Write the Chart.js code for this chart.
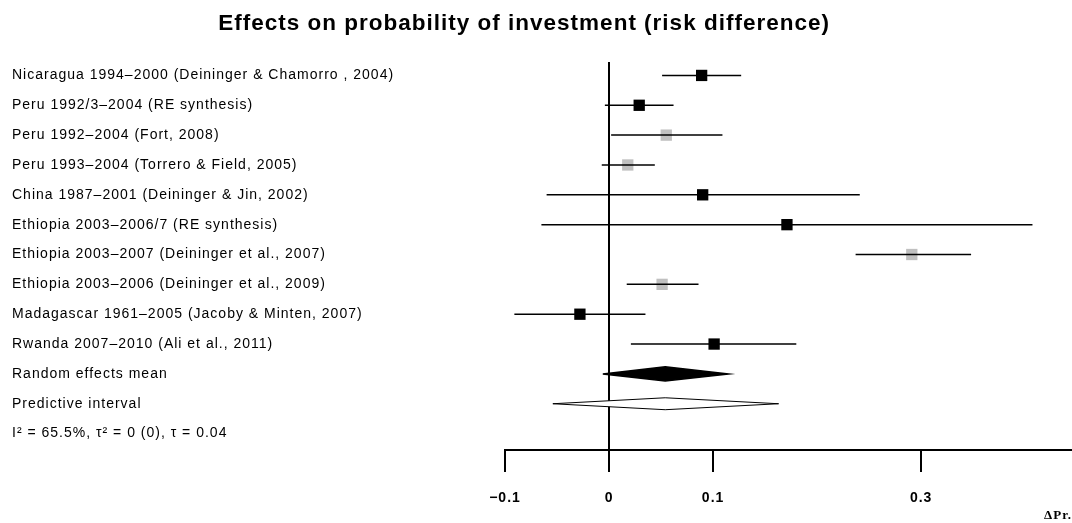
<!DOCTYPE html>
<html>
<head>
<meta charset="utf-8">
<script src="https://cdn.jsdelivr.net/npm/chart.js@4"></script>
<style>
  html, body { margin: 0; padding: 0; background: #fff; }
  #wrap { width: 1072px; height: 523px; }
</style>
</head>
<body>
<div id="wrap"><canvas id="forest"></canvas></div>
<script>
// Studies (rows top to bottom)
const studies = [
    "Nicaragua 1994\u20132000 (Deininger & Chamorro , 2004)",
    "Peru 1992/3\u20132004 (RE synthesis)",
    "Peru 1992\u20132004 (Fort, 2008)",
    "Peru 1993\u20132004 (Torrero & Field, 2005)",
    "China 1987\u20132001 (Deininger & Jin, 2002)",
    "Ethiopia 2003\u20132006/7 (RE synthesis)",
    "Ethiopia 2003\u20132007 (Deininger et al., 2007)",
    "Ethiopia 2003\u20132006 (Deininger et al., 2009)",
    "Madagascar 1961\u20132005 (Jacoby & Minten, 2007)",
    "Rwanda 2007\u20132010 (Ali et al., 2011)"
];
const estimate = [0.089, 0.029, 0.055, 0.018, 0.090, 0.171, 0.291, 0.051, -0.028, 0.101];
const lower    = [0.051, -0.004, 0.002, -0.007, -0.060, -0.065, 0.237, 0.017, -0.091, 0.021];
const upper    = [0.127, 0.062, 0.109, 0.044, 0.241, 0.407, 0.348, 0.086, 0.035, 0.180];
// grey = single studies already pooled in an RE synthesis row
const pooled   = [false, false, true, true, false, false, true, true, false, false];

// Summary rows
const summaryLabels = ["Random effects mean", "Predictive interval"];
const summaryEst = [0.054, 0.054];
const summaryLo  = [-0.006, -0.054];
const summaryHi  = [0.115, 0.163];

const statsLine = "I\u00b2 = 65.5%, \u03c4\u00b2 = 0 (0), \u03c4 = 0.04";
const xTicks = [-0.1, 0, 0.1, 0.3];

const rowLabels = studies.concat(summaryLabels, [statsLine]);

// Build datasets
let datasets = [];

// CI whiskers
for (let i = 0; i < studies.length; i++) {
    datasets.push({
        data: [{ x: lower[i], y: i }, { x: upper[i], y: i }],
        showLine: true,
        borderColor: "#000",
        borderWidth: 1.5,
        pointRadius: 0,
        fill: false
    });
}

// Point estimates (squares)
datasets.push({
    data: estimate.map((v, i) => ({ x: v, y: i })),
    pointStyle: "rect",
    pointRadius: 8,
    pointBackgroundColor: estimate.map((v, i) => pooled[i] ? "#c0c0c0" : "#000"),
    pointBorderWidth: 0,
    showLine: false
});

// Diamonds for summary rows
const halfH = [0.24, 0.2];
for (let j = 0; j < summaryEst.length; j++) {
    let y = studies.length + j;
    datasets.push({
        data: [
            { x: summaryLo[j], y: y },
            { x: summaryEst[j], y: y - halfH[j] },
            { x: summaryHi[j], y: y },
            { x: summaryEst[j], y: y + halfH[j] },
            { x: summaryLo[j], y: y }
        ],
        showLine: true,
        tension: 0,
        pointRadius: 0,
        borderColor: "#000",
        borderWidth: j === 0 ? 1.5 : 1,
        backgroundColor: j === 0 ? "#000" : "#fff",
        fill: "shape"
    });
}

// the original's text is set a bit loose
const spacing = {
    id: "spacing",
    beforeDraw(chart) { chart.ctx.letterSpacing = "1px"; }
};

const ctx = document.getElementById("forest").getContext("2d");

new Chart(ctx, {
    type: "scatter",
    data: { datasets: datasets },
    plugins: [spacing],
    options: {
        responsive: true,
        maintainAspectRatio: false,
        animation: false,
        layout: { autoPadding: false, padding: { left: 12, right: 0, top: 0, bottom: 0 } },
        plugins: {
            legend: { display: false },
            tooltip: { enabled: false },
            title: {
                display: true,
                // trailing spaces pull the centred title a little left, as in the original
                text: "Effects on probability of investment (risk difference)\u2003\u2002",
                color: "#000",
                font: { family: "Liberation Sans, Arial, sans-serif", size: 22.5, weight: "bold" },
                padding: { top: 10, bottom: 25 }
            }
        },
        scales: {
            x: {
                type: "linear",
                min: -0.1,
                max: 0.445,
                afterBuildTicks: (scale) => { scale.ticks = xTicks.map(v => ({ value: v })); },
                afterFit: (scale) => { scale.height = 73; scale.paddingRight = 0; scale.paddingLeft = 0; },
                ticks: {
                    color: "#000",
                    padding: 18,
                    font: { family: "Liberation Sans, Arial, sans-serif", size: 14, weight: "bold" },
                    callback: (v) => v < 0 ? "\u2212" + Math.abs(v) : String(v)
                },
                grid: {
                    drawOnChartArea: true,
                    color: (c) => (c.tick && c.tick.value === 0) ? "#000" : "rgba(0,0,0,0)",
                    lineWidth: 2,
                    tickColor: "#000",
                    tickLength: 22
                },
                border: { display: true, color: "#000", width: 2 },
                title: {
                    display: true,
                    text: "\u0394Pr.",
                    align: "end",
                    color: "#000",
                    font: { family: "Liberation Serif, Times New Roman, serif", size: 13, weight: "bold" },
                    padding: { top: 0, bottom: 0 }
                }
            },
            y: {
                type: "linear",
                reverse: true,
                min: -0.45,
                max: 12.55,
                afterBuildTicks: (scale) => { scale.ticks = rowLabels.map((l, i) => ({ value: i })); },
                afterFit: (scale) => { scale.width = 493; },
                ticks: {
                    crossAlign: "far",
                    color: "#000",
                    font: { family: "Liberation Sans, Arial, sans-serif", size: 14 },
                    callback: (v) => rowLabels[v]
                },
                grid: { display: false },
                border: { display: false }
            }
        }
    }
});
</script>
</body>
</html>
